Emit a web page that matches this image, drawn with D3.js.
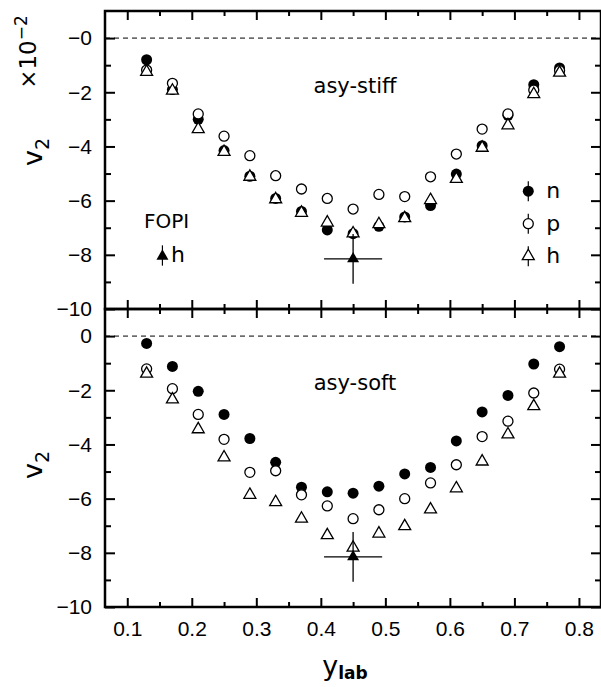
<!DOCTYPE html>
<html>
<head>
<meta charset="utf-8">
<script src="https://cdn.jsdelivr.net/npm/d3@7"></script>
<style>
  body { margin: 0; background: #fff; }
  svg text { fill: #000; }
</style>
</head>
<body>
<div class="chart"></div>
<script>
// rapidity bins (y_lab)
var yLab = [0.13, 0.17, 0.21, 0.25, 0.29, 0.33, 0.37, 0.41, 0.45, 0.49, 0.53, 0.57, 0.61, 0.65, 0.69, 0.73, 0.77];

// asy-stiff, v2 x 10^-2
var stiffN = [-0.8, -1.9, -3.0, -4.15, -5.1, -5.92, -6.4, -7.08, -7.22, -6.95, -6.6, -6.18, -5.02, -3.97, -2.85, -1.72, -1.1];
var stiffP = [-1.18, -1.67, -2.8, -3.62, -4.34, -5.08, -5.57, -5.92, -6.31, -5.77, -5.85, -5.12, -4.28, -3.36, -2.8, -1.92, -1.2];
var stiffH = [-1.25, -1.94, -3.36, -4.2, -5.12, -5.95, -6.45, -6.81, -7.21, -6.87, -6.65, -5.98, -5.2, -4.05, -3.22, -2.07, -1.28];

// asy-soft, v2 x 10^-2
var softN = [-0.27, -1.12, -2.04, -2.89, -3.78, -4.66, -5.58, -5.75, -5.8, -5.54, -5.09, -4.85, -3.87, -2.8, -2.19, -1.03, -0.39];
var softP = [-1.21, -1.94, -2.89, -3.81, -5.03, -4.97, -5.86, -6.27, -6.74, -6.41, -6.0, -5.42, -4.75, -3.71, -3.14, -2.1, -1.22];
var softH = [-1.39, -2.34, -3.44, -4.48, -5.86, -6.13, -6.74, -7.35, -7.81, -7.29, -7.02, -6.4, -5.62, -4.63, -3.63, -2.59, -1.39];

// FOPI point (h)
var fopiX = [0.45];
var fopiV = [-8.15];
var fopiXErr = [0.045];
var fopiVErr = [0.92];

var xMajor = [0.1, 0.2, 0.3, 0.4, 0.5, 0.6, 0.7, 0.8];
var xMinor = [0.15, 0.25, 0.35, 0.45, 0.55, 0.65, 0.75];
var yMajor = [-10, -8, -6, -4, -2, 0];
var yMinor = [-9, -7, -5, -3, -1];

var W = 601, H = 687;
var left = 105, right = 601;

var svg = d3.select(".chart").append("svg")
  .attr("width", W)
  .attr("height", H)
  .style("font-family", "'Liberation Sans', Arial, sans-serif");

var x = d3.scaleLinear().domain([0.0655, 0.8342]).range([left, right]);

var triangle = d3.symbol().type(d3.symbolTriangle).size(62);

function panel(top, bottom, n, p, h, title, titleY, zeroLabel, showX, vLabelY) {
  var y = d3.scaleLinear().domain([-10, 1]).range([bottom, top]);
  var g = svg.append("g");

  // dashed zero line
  g.append("line")
    .attr("x1", left).attr("x2", right)
    .attr("y1", y(0)).attr("y2", y(0))
    .attr("stroke", "#000").attr("stroke-width", 1)
    .attr("stroke-dasharray", "5,4");

  // axes, ticks pointing inward
  var fmt = function(d) {
    if (d === 0) return zeroLabel;
    return "\u2212" + Math.abs(d);
  };
  var yl = g.append("g").attr("transform", "translate(" + left + ",0)")
    .call(d3.axisLeft(y).tickValues(yMajor).tickSize(-10).tickPadding(13).tickFormat(fmt));
  yl.selectAll("text").style("font-size", "21px");
  g.append("g").attr("transform", "translate(" + left + ",0)")
    .call(d3.axisLeft(y).tickValues(yMinor).tickSize(-6).tickFormat(""));
  g.append("g").attr("transform", "translate(" + right + ",0)")
    .call(d3.axisRight(y).tickValues(yMajor).tickSize(-10).tickFormat(""));
  g.append("g").attr("transform", "translate(" + right + ",0)")
    .call(d3.axisRight(y).tickValues(yMinor).tickSize(-6).tickFormat(""));
  g.append("g").attr("transform", "translate(0," + top + ")")
    .call(d3.axisTop(x).tickValues(xMajor).tickSize(-9).tickFormat(""));
  g.append("g").attr("transform", "translate(0," + top + ")")
    .call(d3.axisTop(x).tickValues(xMinor).tickSize(-5).tickFormat(""));
  var xb = g.append("g").attr("transform", "translate(0," + bottom + ")")
    .call(d3.axisBottom(x).tickValues(xMajor).tickSize(-9).tickPadding(14)
      .tickFormat(showX ? d3.format(".1f") : ""));
  xb.selectAll("text").style("font-size", "21px");
  g.append("g").attr("transform", "translate(0," + bottom + ")")
    .call(d3.axisBottom(x).tickValues(xMinor).tickSize(-5).tickFormat(""));

  g.selectAll(".domain").remove();
  g.selectAll(".tick line").attr("stroke", "#000").attr("stroke-width", 2);

  // frame
  g.append("rect")
    .attr("x", left).attr("y", top)
    .attr("width", right - left).attr("height", bottom - top)
    .attr("fill", "none").attr("stroke", "#000").attr("stroke-width", 2.5);

  // series: n filled, p open, h open triangles
  g.selectAll(".n").data(yLab).enter().append("circle")
    .attr("cx", function(d) { return x(d); })
    .attr("cy", function(d, i) { return y(n[i]); })
    .attr("r", 5.5).attr("fill", "#000");
  g.selectAll(".p").data(yLab).enter().append("circle")
    .attr("cx", function(d) { return x(d); })
    .attr("cy", function(d, i) { return y(p[i]); })
    .attr("r", 5).attr("fill", "#fff").attr("stroke", "#000").attr("stroke-width", 1.3);
  g.selectAll(".h").data(yLab).enter().append("path")
    .attr("d", triangle)
    .attr("transform", function(d, i) { return "translate(" + x(d) + "," + y(h[i]) + ")"; })
    .attr("fill", "#fff").attr("stroke", "#000").attr("stroke-width", 1.3);

  // FOPI point with error bars
  fopiX.forEach(function(fx, i) {
    g.append("line")
      .attr("x1", x(fx - fopiXErr[i])).attr("x2", x(fx + fopiXErr[i]))
      .attr("y1", y(fopiV[i])).attr("y2", y(fopiV[i]))
      .attr("stroke", "#000").attr("stroke-width", 1.3);
    g.append("line")
      .attr("x1", x(fx)).attr("x2", x(fx))
      .attr("y1", y(fopiV[i] + fopiVErr[i])).attr("y2", y(fopiV[i] - fopiVErr[i]))
      .attr("stroke", "#000").attr("stroke-width", 1.3);
    g.append("path")
      .attr("d", triangle)
      .attr("transform", "translate(" + x(fx) + "," + y(fopiV[i]) + ")")
      .attr("fill", "#000");
  });

  g.append("text")
    .attr("x", 355).attr("y", titleY)
    .attr("text-anchor", "middle")
    .style("font-family", "'DejaVu Sans', sans-serif")
    .style("font-size", "21px")
    .text(title);

  // y label
  var vl = g.append("text")
    .attr("transform", "translate(42," + vLabelY + ") rotate(-90)")
    .attr("text-anchor", "middle")
    .style("font-family", "'DejaVu Sans', sans-serif")
    .style("font-size", "27px");
  vl.append("tspan").text("v");
  vl.append("tspan").attr("dy", 7).style("font-size", "19px").text("2");

  return y;
}

var yTop = panel(11, 309, stiffN, stiffP, stiffH, "asy-stiff", 93, "\u22120", false, 152);
var yBot = panel(309, 607, softN, softP, softH, "asy-soft", 390, "0", true, 465);

// x10^-2 factor
var fac = svg.append("text")
  .attr("transform", "translate(36,52) rotate(-90)")
  .attr("text-anchor", "middle")
  .style("font-family", "'DejaVu Sans', sans-serif")
  .style("font-size", "23px");
fac.append("tspan").text("\u00d710");
fac.append("tspan").attr("dy", -9).style("font-size", "17px").text("\u22122");

// x label
var xl = svg.append("text")
  .attr("x", 345).attr("y", 675)
  .attr("text-anchor", "middle")
  .style("font-family", "'DejaVu Sans', sans-serif")
  .style("font-size", "27px");
xl.append("tspan").text("y");
xl.append("tspan").attr("dy", 4).style("font-size", "17px").style("font-weight", "bold").text("lab");

// legend (top panel)
var legY = [-5.65, -6.85, -8.05];
var legX = 0.7215;
var lg = svg.append("g");
legY.forEach(function(v) {
  lg.append("line")
    .attr("x1", x(legX)).attr("x2", x(legX))
    .attr("y1", yTop(v) - 10).attr("y2", yTop(v) + 10)
    .attr("stroke", "#000").attr("stroke-width", 1.2);
});
lg.append("circle").attr("cx", x(legX)).attr("cy", yTop(legY[0])).attr("r", 5.5).attr("fill", "#000");
lg.append("circle").attr("cx", x(legX)).attr("cy", yTop(legY[1])).attr("r", 5)
  .attr("fill", "#fff").attr("stroke", "#000").attr("stroke-width", 1.3);
lg.append("path").attr("d", triangle)
  .attr("transform", "translate(" + x(legX) + "," + yTop(legY[2]) + ")")
  .attr("fill", "#fff").attr("stroke", "#000").attr("stroke-width", 1.3);
["n", "p", "h"].forEach(function(t, i) {
  lg.append("text")
    .attr("x", x(legX) + 18).attr("y", yTop(legY[i]) + 7)
    .style("font-family", "'DejaVu Sans', sans-serif")
    .style("font-size", "22px")
    .text(t);
});

// FOPI legend
var fopiLegX = 0.1545;
lg.append("text")
  .attr("x", 144).attr("y", 228)
  .style("font-family", "'DejaVu Sans', sans-serif")
  .style("font-size", "20px")
  .text("FOPI");
lg.append("line")
  .attr("x1", x(fopiLegX)).attr("x2", x(fopiLegX))
  .attr("y1", yTop(-7.65)).attr("y2", yTop(-8.4))
  .attr("stroke", "#000").attr("stroke-width", 1.2);
lg.append("path").attr("d", triangle)
  .attr("transform", "translate(" + x(fopiLegX) + "," + yTop(-8.05) + ")")
  .attr("fill", "#000");
lg.append("text")
  .attr("x", 171).attr("y", 262)
  .style("font-family", "'DejaVu Sans', sans-serif")
  .style("font-size", "22px")
  .text("h");
</script>
</body>
</html>
